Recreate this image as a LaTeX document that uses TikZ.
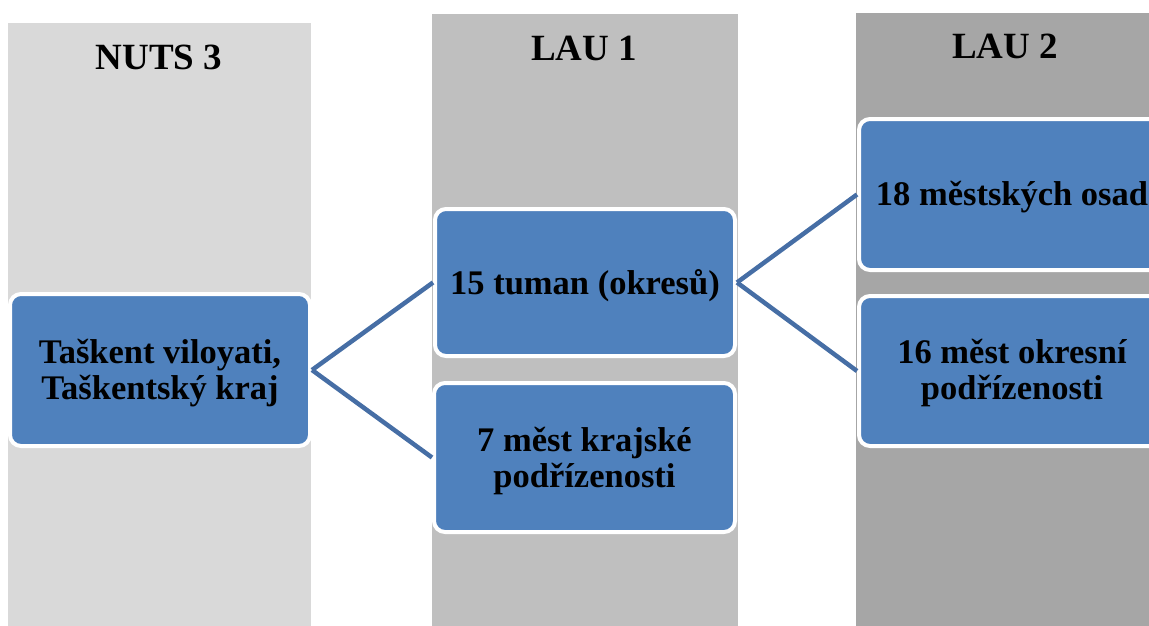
\documentclass[tikz,border=0pt]{standalone}
\usepackage{fontspec}
\setmainfont{Liberation Serif}
\definecolor{colA}{HTML}{D9D9D9}
\definecolor{colB}{HTML}{BFBFBF}
\definecolor{colC}{HTML}{A6A6A6}
\definecolor{boxfill}{HTML}{4F81BD}
\definecolor{linkcol}{RGB}{70,110,165}
\tikzset{
  unitbox/.style={rectangle, rounded corners=11pt, fill=boxfill, draw=white,
    line width=4pt, inner sep=0pt},
  unittext/.style={align=center, inner sep=0pt,
    font=\fontsize{34.5}{36}\selectfont\bfseries},
  heading/.style={anchor=base, inner sep=0pt,
    font=\fontsize{37}{40}\selectfont\bfseries},
  link/.style={draw=linkcol, line width=4.5pt}
}
\begin{document}
\begin{tikzpicture}[x=1pt,y=-1pt]
\useasboundingbox (0,0) rectangle (1149,626);
\clip (0,0) rectangle (1149,626);
% level columns
\fill[colA] (8,23) rectangle (311,626);
\fill[colB] (432,14) rectangle (738,626);
\fill[colC] (856,13) rectangle (1180,626);
% column headings
\node[heading] (h1) at (159,70) {NUTS 3};
\node[heading] (h2) at (584,60) {LAU 1};
\node[heading] (h3) at (1005,59) {LAU 2};
% unit boxes
\node[unitbox, minimum width=300pt, minimum height=152pt] (a) at (160,370) {};
\node[unitbox, minimum width=300pt, minimum height=147pt] (b) at (585,282.5) {};
\node[unitbox, minimum width=301pt, minimum height=149pt] (c) at (584.5,457.5) {};
\node[unitbox, minimum width=306pt, minimum height=151pt] (d) at (1012,194.5) {};
\node[unitbox, minimum width=306pt, minimum height=150pt] (e) at (1012,371) {};
% unit labels, set a little below the box centres
\node[unittext] (at) at ([yshift=-3pt]a.center) {Taškent viloyati,\\Taškentský kraj};
\node[unittext] (bt) at ([yshift=-3pt]b.center) {15 tuman (okresů)};
\node[unittext] (ct) at ([yshift=-4pt]c.center) {7 měst krajské\\podřízenosti};
\node[unittext] (dt) at ([yshift=-3pt]d.center) {18 městských osad};
\node[unittext] (et) at ([yshift=-2pt]e.center) {16 měst okresní\\podřízenosti};
% connectors
\draw[link] (a.east) -- (b.west);
\draw[link] (a.east) -- (c.west);
\draw[link] (b.east) -- (d.west);
\draw[link] (b.east) -- (e.west);
\end{tikzpicture}
\end{document}
